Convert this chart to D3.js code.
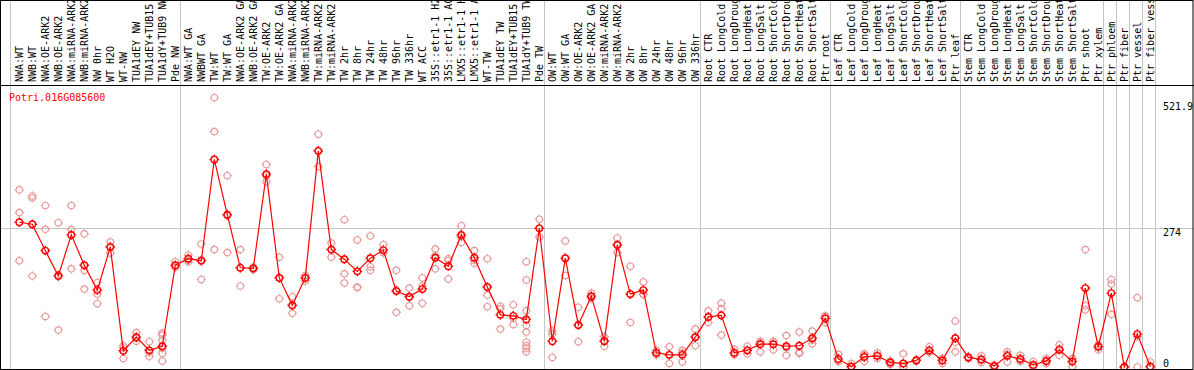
<!DOCTYPE html>
<html>
<head>
<meta charset="utf-8">
<script src="https://cdn.jsdelivr.net/npm/d3@7"></script>
<style>
  body { margin: 0; background: #fff; }
  svg { display: block; }
  text { font-family: "DejaVu Sans Mono", "Liberation Mono", monospace; font-size: 10px; }
</style>
</head>
<body>
<div id="chart"></div>
<script>
var geneName = "Potri.016G085600";

var categories = [
  "NWA:WT", "NWB:WT", "NWA:OE-ARK2", "NWB:OE-ARK2", "NWA:miRNA-ARK2", "NWB:miRNA-ARK2",
  "NW 0hr", "WT H2O", "WT-NW", "TUA1dEY NW", "TUA1dEY+TUB15 NW", "TUA1dY+TUB9 NW", "Pde NW",
  "NWA:WT GA", "NWBWT GA", "TW:WT", "TW:WT GA", "NWA:OE-ARK2 GA", "NWB:OE-ARK2 GA",
  "TW:OE-ARK2", "TW:OE-ARK2 GA", "NWA:miRNA-ARK2", "NWB:miRNA-ARK2", "TW:miRNA-ARK2",
  "TW:miRNA-ARK2", "TW 2hr", "TW 8hr", "TW 24hr", "TW 48hr", "TW 96hr", "TW 336hr",
  "WT ACC", "35S::etr1-1 H2O", "35S::etr1-1 ACC", "LMX5::etr1-1 H2O", "LMX5::etr1-1 ACC",
  "WT-TW", "TUA1dEY TW", "TUA1dEY+TUB15 TW", "TUA1dY+TUB9 TW", "Pde TW",
  "OW:WT", "OW:WT GA", "OW:OE-ARK2", "OW:OE-ARK2 GA", "OW:miRNA-ARK2", "OW:miRNA-ARK2",
  "OW 2hr", "OW 8hr", "OW 24hr", "OW 48hr", "OW 96hr", "OW 336hr",
  "Root CTR", "Root LongCold", "Root LongDrought", "Root LongHeat", "Root LongSalt",
  "Root ShortCold", "Root ShortDrought", "Root ShortHeat", "Root ShortSalt", "Ptr root",
  "Leaf CTR", "Leaf LongCold", "Leaf LongDrought", "Leaf LongHeat", "Leaf LongSalt",
  "Leaf ShortCold", "Leaf ShortDrought", "Leaf ShortHeat", "Leaf ShortSalt", "Ptr leaf",
  "Stem CTR", "Stem LongCold", "Stem LongDrought", "Stem LongHeat", "Stem LongSalt",
  "Stem ShortCold", "Stem ShortDrought", "Stem ShortHeat", "Stem ShortSalt",
  "Ptr shoot", "Ptr xylem", "Ptr phloem", "Ptr fiber", "Ptr vessel", "Ptr fiber vessel"
];

// mean expression per sample
var meanValues = [
  286, 282, 230, 180, 261, 201, 152, 237, 32, 59, 33, 41, 201,
  214, 210, 410, 301, 196, 195, 381, 176, 122, 176, 427, 232, 213, 189, 215, 231, 150, 139,
  154, 216, 199, 261, 216, 158, 103, 101, 94, 274,
  51, 215, 83, 140, 51, 241, 144, 152, 28, 24, 24, 59,
  99, 102, 28, 33, 45, 45, 41, 42, 57, 96,
  16, 1, 20, 22, 9, 7, 13, 33, 13, 57,
  19, 15, 2, 22, 16, 4, 12, 34, 11,
  156, 40, 146, 0, 65, 1
];

// individual replicates
var replicateValues = [
  [350, 305, 210], [338, 334, 180], [319, 272, 100], [285, 182, 73], [319, 272, 194],
  [263, 191, 154], [167, 144, 125], [247, 238, 225], [42, 38, 17], [68, 57, 51],
  [50, 29, 21], [67, 63, 53, 37, 27, 12], [208, 198, 197],
  [221, 211, 208], [243, 212, 173], [532, 465, 232], [378, 299, 226], [232, 196, 160],
  [197, 194, 192], [400, 378, 366], [217, 177, 135], [139, 121, 106], [181, 177, 170],
  [460, 426, 396], [245, 232, 217], [291, 184, 166], [251, 158, 157], [259, 198, 191],
  [242, 226, 226], [191, 152, 108], [156, 138, 121],
  [176, 160, 126], [233, 220, 194], [214, 210, 174], [279, 257, 246], [230, 211, 205],
  [214, 142, 119], [120, 115, 75], [123, 96, 84], [208, 172, 111, 82, 69, 49, 42, 37, 30],
  [292, 274, 257],
  [71, 65, 19], [249, 215, 181], [118, 82, 50], [146, 138, 136], [60, 53, 41],
  [255, 243, 226], [199, 144, 88], [168, 144, 143], [33, 28, 24], [40, 24, 7],
  [33, 28, 10], [75, 60, 42],
  [111, 98, 88], [126, 115, 63], [35, 26, 24], [41, 32, 26], [51, 48, 30],
  [51, 50, 34], [62, 38, 23], [69, 29, 27], [71, 53, 46], [101, 100, 88],
  [25, 12, 11], [7, 0, 0], [26, 24, 11], [28, 22, 17], [12, 9, 5],
  [26, 0, 0], [15, 13, 12], [40, 30, 29], [17, 13, 7], [91, 49, 30],
  [20, 20, 17], [22, 14, 9], [4, 2, 0], [30, 25, 10], [23, 14, 11],
  [11, 1, 1], [17, 11, 7], [44, 36, 23], [17, 16, 1],
  [232, 121, 113], [44, 42, 34], [173, 164, 104], [0, 0, 0], [137, 60, 0], [10, 0, 0]
];

var tickValues = [0, 274, 521.9];
var gridTicks = [274];
// sample index after which a group separator is drawn
var groupEnds = [12, 40, 52, 62, 72, 83, 84, 85, 86, 87];

var width = 1194, height = 370;
var headerH = 85;      // label band height
var plotRight = 1156;  // end of sample columns
var colStep = 13;

var svg = d3.select("#chart").append("svg")
    .attr("width", width)
    .attr("height", height);

var x = d3.scalePoint()
    .domain(d3.range(categories.length))
    .range([19.3, 19.3 + colStep * (categories.length - 1)]);

var y = d3.scaleLinear()
    .domain([0, 274])
    .range([367, 228.3]);

// group separators (gray)
svg.append("line")
    .attr("x1", 10.5).attr("x2", 10.5)
    .attr("y1", 0).attr("y2", height)
    .attr("stroke", "#c4c4c4");
svg.selectAll(".sep")
    .data(groupEnds)
    .enter().append("line")
    .attr("class", "sep")
    .attr("x1", function(d) { return Math.round(x(d) + 5) + 0.5; })
    .attr("x2", function(d) { return Math.round(x(d) + 5) + 0.5; })
    .attr("y1", 0).attr("y2", height)
    .attr("stroke", "#c4c4c4");

svg.selectAll(".hgrid")
    .data(gridTicks)
    .enter().append("line")
    .attr("class", "hgrid")
    .attr("x1", 0).attr("x2", width)
    .attr("y1", function(d) { return Math.round(y(d)) + 0.5; })
    .attr("y2", function(d) { return Math.round(y(d)) + 0.5; })
    .attr("stroke", "#c4c4c4");

// sample labels, rotated
svg.append("g")
    .selectAll("text")
    .data(categories)
    .enter().append("text")
    .attr("transform", function(d, i) { return "translate(" + (x(i) + 3.5) + "," + 82 + ") rotate(-90)"; })
    .attr("fill", "black")
    .text(function(d) { return d; });

// frame
svg.append("rect")
    .attr("x", 0.5).attr("y", 0.5)
    .attr("width", width - 1.5).attr("height", height - 1)
    .attr("fill", "none")
    .attr("stroke", "black");
svg.append("line")
    .attr("x1", 0).attr("x2", width)
    .attr("y1", headerH + 0.5).attr("y2", headerH + 0.5)
    .attr("stroke", "black");

svg.append("text")
    .attr("x", 9)
    .attr("y", 101)
    .attr("fill", "red")
    .text(geneName);

// y labels on the right
svg.selectAll(".ylab")
    .data(tickValues)
    .enter().append("text")
    .attr("class", "ylab")
    .attr("x", 1163)
    .attr("y", function(d) { return Math.min(y(d) + 7.5, 366.5); })
    .attr("fill", "black")
    .text(function(d) { return d === 0 ? "0" : String(d); });

svg.append("defs").append("clipPath")
    .attr("id", "plotclip")
    .append("rect")
    .attr("x", 1).attr("y", headerH + 1)
    .attr("width", plotRight).attr("height", height - headerH - 2);

var plot = svg.append("g").attr("clip-path", "url(#plotclip)");

// circle with small ticks
function markPath(r, t) {
    return "M" + (-r) + ",0A" + r + "," + r + " 0 1,0 " + r + ",0A" + r + "," + r + " 0 1,0 " + (-r) + ",0" +
        "M0," + (-r) + "L0," + (-t) + "M0," + r + "L0," + t +
        "M" + (-r) + ",0L" + (-t) + ",0M" + r + ",0L" + t + ",0";
}

var reps = [];
replicateValues.forEach(function(arr, i) {
    arr.forEach(function(v) { reps.push({ i: i, v: v }); });
});

plot.selectAll(".rep")
    .data(reps)
    .enter().append("path")
    .attr("class", "rep")
    .attr("transform", function(d) { return "translate(" + x(d.i) + "," + y(d.v) + ")"; })
    .attr("d", markPath(3.2, 4.6))
    .attr("fill", "none")
    .attr("stroke", "#e89a9a")
    .attr("stroke-width", 1.1);

plot.append("path")
    .datum(meanValues)
    .attr("d", d3.line()
        .x(function(d, i) { return x(i); })
        .y(function(d) { return y(d); }))
    .attr("fill", "none")
    .attr("stroke", "red")
    .attr("stroke-width", 1.2);

plot.selectAll(".mean")
    .data(meanValues)
    .enter().append("path")
    .attr("class", "mean")
    .attr("transform", function(d, i) { return "translate(" + x(i) + "," + y(d) + ")"; })
    .attr("d", markPath(3.2, 4.8))
    .attr("fill", "none")
    .attr("stroke", "red")
    .attr("stroke-width", 1.4);
</script>
</body>
</html>
